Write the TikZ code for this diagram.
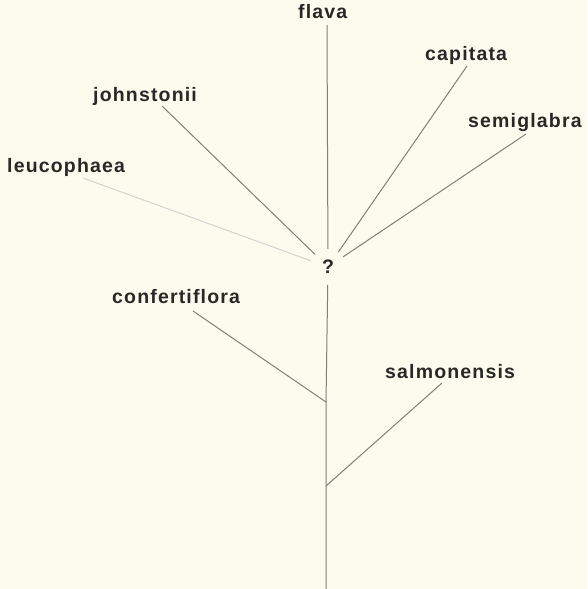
\documentclass[tikz,border=0pt]{standalone}
\usepackage{fontspec}
\usepackage{tikz}
\usetikzlibrary{positioning}
\newfontfamily\taxonfont[LetterSpace=6]{Liberation Sans}
\definecolor{paper}{RGB}{251,251,238}
\definecolor{inkgray}{RGB}{40,40,38}
\definecolor{branchgray}{RGB}{128,128,122}

\tikzset{
  taxon/.style={font=\taxonfont\bfseries\fontsize{19.5}{23}\selectfont, text=inkgray, inner sep=0pt},
  branch/.style={draw=branchgray, line width=1pt},
}

\begin{document}
\begin{tikzpicture}[x=1pt, y=-1pt]
    % Paper
    \fill[paper] (0,0) rectangle (587,589);
    \useasboundingbox (0,0) rectangle (587,589);

    % Unknown common ancestor
    \node[taxon, circle, minimum size=36pt] (anc) at (328,267) {?};

    % Taxa
    \node[taxon, anchor=base west] (flava) at (298,19) {flava};
    \node[taxon, anchor=base west] (capitata) at (425,60) {capitata};
    \node[taxon, anchor=base west] (semiglabra) at (468,127) {semiglabra};
    \node[taxon, anchor=base west] (johnstonii) at (93,101) {johnstonii};
    \node[taxon, anchor=base west] (leucophaea) at (7,172) {leucophaea};
    \node[taxon, anchor=base west] (confertiflora) at (112,303) {confertiflora};
    \node[taxon, anchor=base west] (salmonensis) at (385,378) {salmonensis};

    % Branch tips below the names
    \coordinate (flava-tip) at (327,25);
    \coordinate (capitata-tip) at (467,66);
    \coordinate (semiglabra-tip) at (526,134);
    \coordinate (johnstonii-tip) at (162,106);
    \coordinate (leucophaea-tip) at (83,178);
    \coordinate (confertiflora-tip) at (193,311);
    \coordinate (salmonensis-tip) at (442,383);

    % Joins on the trunk
    \coordinate (conf-join) at (326,402);
    \coordinate (salm-join) at (326,486);
    \coordinate (root) at (326,589);

    % Branches to the ancestor
    \draw[branch] (flava-tip) -- (anc);
    \draw[branch] (capitata-tip) -- (anc);
    \draw[branch] (semiglabra-tip) -- (anc);
    \draw[branch] (johnstonii-tip) -- (anc);
    \draw[branch, draw=branchgray!35] (leucophaea-tip) -- (anc);

    % Trunk
    \draw[branch] (anc) -- (conf-join) -- (salm-join) -- (root);
    \draw[branch] (confertiflora-tip) -- (conf-join);
    \draw[branch] (salmonensis-tip) -- (salm-join);
\end{tikzpicture}
\end{document}
